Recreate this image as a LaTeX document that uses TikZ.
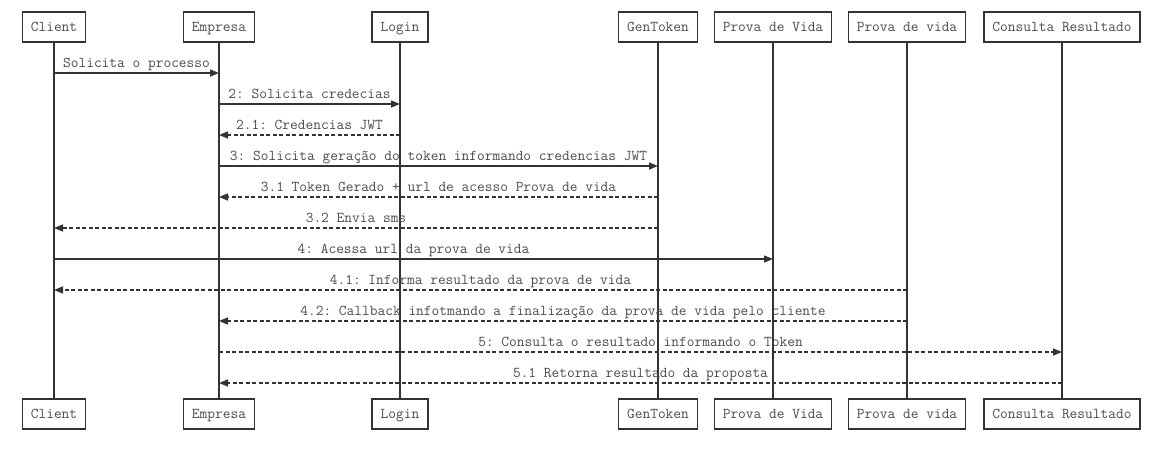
\documentclass[tikz,border=0pt]{standalone}
\usepackage{fontspec}
\usetikzlibrary{arrows.meta}
\definecolor{seq_line}{RGB}{51, 51, 51}
\definecolor{seq_text}{RGB}{75, 75, 75}
\frenchspacing
\tikzstyle{actor}=[rectangle,draw=seq_line,fill=white,line width=1.5pt,
  inner xsep=8.5pt,inner ysep=0pt,minimum height=30pt,text=seq_text,
  text height=9pt,text depth=0pt,
  font=\ttfamily\fontsize{15}{17}\selectfont]
\tikzstyle{life}=[draw=seq_line,line width=1.5pt]
\tikzstyle{call}=[draw=seq_line,line width=1.4pt,-{Triangle[length=9pt,width=7pt]}]
\tikzstyle{reply}=[call,dash pattern=on 4pt off 2.5pt]
\tikzstyle{lbl}=[anchor=base,inner sep=0pt,text=seq_text,
  font=\ttfamily\fontsize{15}{17}\selectfont]

\begin{document}
\begin{tikzpicture}[x=1pt, y=1pt]
            \useasboundingbox (0, 0) rectangle (1173, -448);
            % participants, top row
            \node [style=actor] (0) at (54, -27) {Client};
            \node [style=actor] (1) at (219, -27) {Empresa};
            \node [style=actor] (2) at (400, -27) {Login};
            \node [style=actor] (3) at (658, -27) {GenToken};
            \node [style=actor] (4) at (773, -27) {Prova de Vida};
            \node [style=actor] (5) at (907, -27) {Prova de vida};
            \node [style=actor] (6) at (1062, -27) {Consulta Resultado};
            % participants, bottom row
            \node [style=actor] (7) at (54, -414) {Client};
            \node [style=actor] (8) at (219, -414) {Empresa};
            \node [style=actor] (9) at (400, -414) {Login};
            \node [style=actor] (10) at (658, -414) {GenToken};
            \node [style=actor] (11) at (773, -414) {Prova de Vida};
            \node [style=actor] (12) at (907, -414) {Prova de vida};
            \node [style=actor] (13) at (1062, -414) {Consulta Resultado};
            \foreach \a/\b in {0/7, 1/8, 2/9, 3/10, 4/11, 5/12, 6/13}
                \draw [style=life] (\a) to (\b);
            % message rows
            \foreach \i in {1,...,11}
                \coordinate (r\i) at (0, -42 - 31*\i);
            \draw [style=call] (0 |- r1) to (1 |- r1);
            \draw [style=call] (1 |- r2) to (2 |- r2);
            \draw [style=reply] (2 |- r3) to (1 |- r3);
            \draw [style=call] (1 |- r4) to (3 |- r4);
            \draw [style=reply] (3 |- r5) to (1 |- r5);
            \draw [style=reply] (3 |- r6) to (0 |- r6);
            \draw [style=call] (0 |- r7) to (4 |- r7);
            \draw [style=reply] (5 |- r8) to (0 |- r8);
            \draw [style=reply] (5 |- r9) to (1 |- r9);
            \draw [style=reply] (1 |- r10) to (6 |- r10);
            \draw [style=reply] (6 |- r11) to (1 |- r11);
            % message labels
            \node [style=lbl] (m1) at (136.5, -67) {Solicita o processo};
            \node [style=lbl] (m2) at (309.5, -98) {2: Solicita credecias};
            \node [style=lbl] (m3) at (309.5, -129) {2.1: Credencias JWT};
            \node [style=lbl] (m4) at (438.5, -160) {3: Solicita geração do token informando credencias JWT};
            \node [style=lbl] (m5) at (438.5, -191) {3.1 Token Gerado + url de acesso Prova de vida};
            \node [style=lbl] (m6) at (356, -222) {3.2 Envia sms};
            \node [style=lbl] (m7) at (413.5, -253) {4: Acessa url da prova de vida};
            \node [style=lbl] (m8) at (480.5, -284) {4.1: Informa resultado da prova de vida};
            \node [style=lbl] (m9) at (563, -315) {4.2: Callback infotmando a finalização da prova de vida pelo cliente};
            \node [style=lbl] (m10) at (640.5, -346) {5: Consulta o resultado informando o Token};
            \node [style=lbl] (m11) at (640.5, -377) {5.1 Retorna resultado da proposta};
\end{tikzpicture}
\end{document}
